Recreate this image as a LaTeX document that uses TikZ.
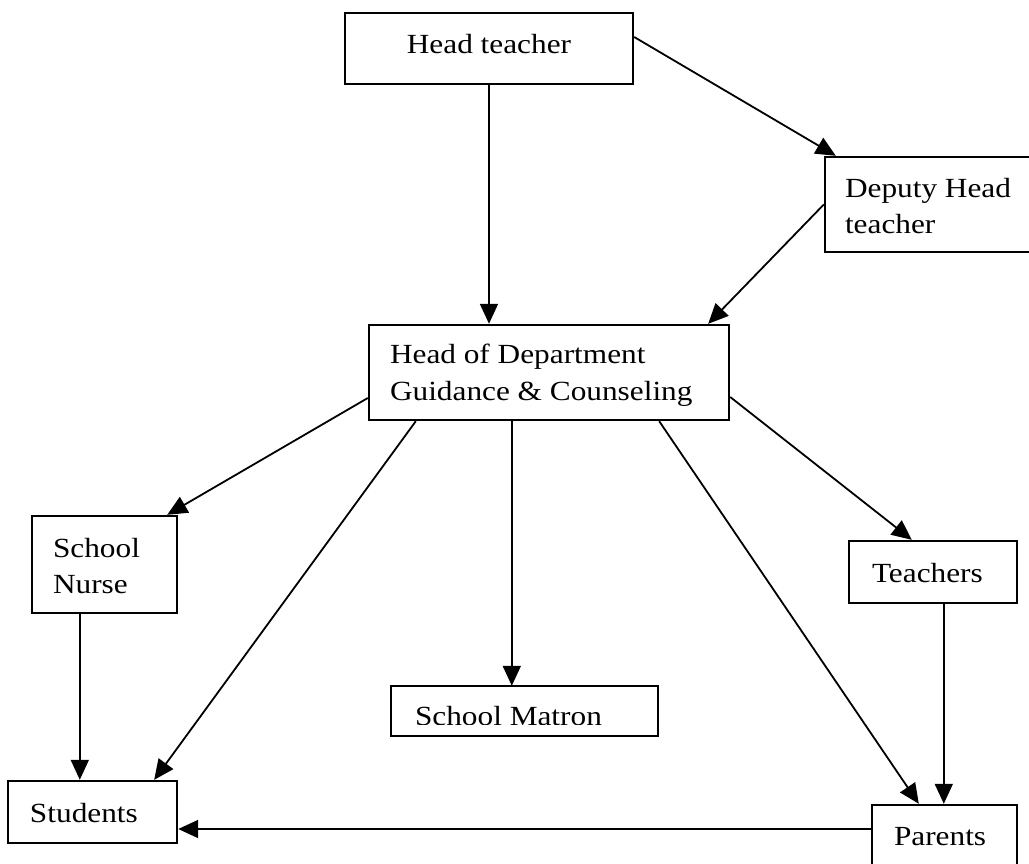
\documentclass[tikz,border=0pt]{standalone}
\usepackage{fontspec}
\setmainfont{Liberation Serif}[FakeStretch=1.13]
\usetikzlibrary{arrows.meta}
\begin{document}
\begin{tikzpicture}[x=1pt,y=-1pt,
  box/.style={draw, line width=2.4pt, rectangle, inner ysep=0pt, inner xsep=0pt,
    font=\fontsize{27.7}{36}\selectfont, align=flush left},
  conn/.style={line width=1.8pt, -{Triangle[length=20pt,width=18pt]}}]
\useasboundingbox (0,0) rectangle (1029,863);
\clip (0,0) rectangle (1029,863);
\fill[white] (0,0) rectangle (1029,863);

\node[box, align=center, minimum width=288pt, minimum height=71pt, text height=9pt, text depth=0pt] (ht) at (489,48.5) {Head teacher};
\node[box, minimum width=220pt, minimum height=95pt, inner xsep=20pt, text width=180pt, text height=10pt, text depth=25pt] (dep) at (935,204.5) {Deputy Head\\teacher};
\node[box, font=\fontsize{27.7}{37}\selectfont, minimum width=360pt, minimum height=95pt, inner xsep=21pt, text width=318pt, text height=10pt, text depth=29pt] (hod) at (549,372.5) {Head of Department\\Guidance \& Counseling};
\node[box, minimum width=145pt, minimum height=97pt, inner xsep=21pt, text width=103pt, text height=10pt, text depth=25pt] (nurse) at (104.5,564.5) {School\\Nurse};
\node[box, minimum width=168pt, minimum height=62pt, inner xsep=23pt, text width=122pt, text height=20pt, text depth=0pt] (teach) at (933,572) {Teachers};
\node[box, draw=none, minimum width=265pt, minimum height=48pt, inner xsep=23pt, text width=219pt, text height=29pt, text depth=0pt] (matron) at (524.5,711) {School Matron};
\fill[white] ([yshift=1.3pt]matron.south west) rectangle ([yshift=11.5pt]matron.south east);
\draw[line width=2.4pt] (matron.south west) rectangle (matron.north east);
\node[box, minimum width=169pt, minimum height=62pt, inner xsep=22pt, text width=125pt, text height=20pt, text depth=0pt] (stud) at (92.5,812) {Students};
\node[box, minimum width=145pt, minimum height=70pt, inner xsep=22pt, text width=101pt, text height=10pt, text depth=0pt] (par) at (944.5,840) {Parents};

\draw[conn] (ht.south) -- (ht.south |- hod.north);
\draw[conn] ([yshift=11.5pt]ht.east) -- ([xshift=12pt]dep.north west);
\draw[conn] (dep.west) -- ([xshift=-22pt]hod.north east);
\draw[conn] ([yshift=-25.5pt]hod.west) -- ([xshift=-11pt]nurse.north east);
\draw[conn] ([xshift=48pt]hod.south west) -- ([xshift=-24pt]stud.north east);
\draw[conn] ([xshift=144pt]hod.south west) -- ([xshift=144pt]hod.south west |- matron.north);
\draw[conn] ([xshift=-71pt]hod.south east) -- ([xshift=48pt]par.north west);
\draw[conn] ([yshift=-24.5pt]hod.east) -- ([xshift=64pt]teach.north west);
\draw[conn] ([xshift=49pt]nurse.south west) -- ([xshift=49pt]nurse.south west |- stud.north);
\draw[conn] ([xshift=96pt]teach.south west) -- ([xshift=96pt]teach.south west |- par.north);
\draw[conn] ([yshift=11pt]par.west) -- ([yshift=11pt]par.west -| stud.east);
\end{tikzpicture}
\end{document}
